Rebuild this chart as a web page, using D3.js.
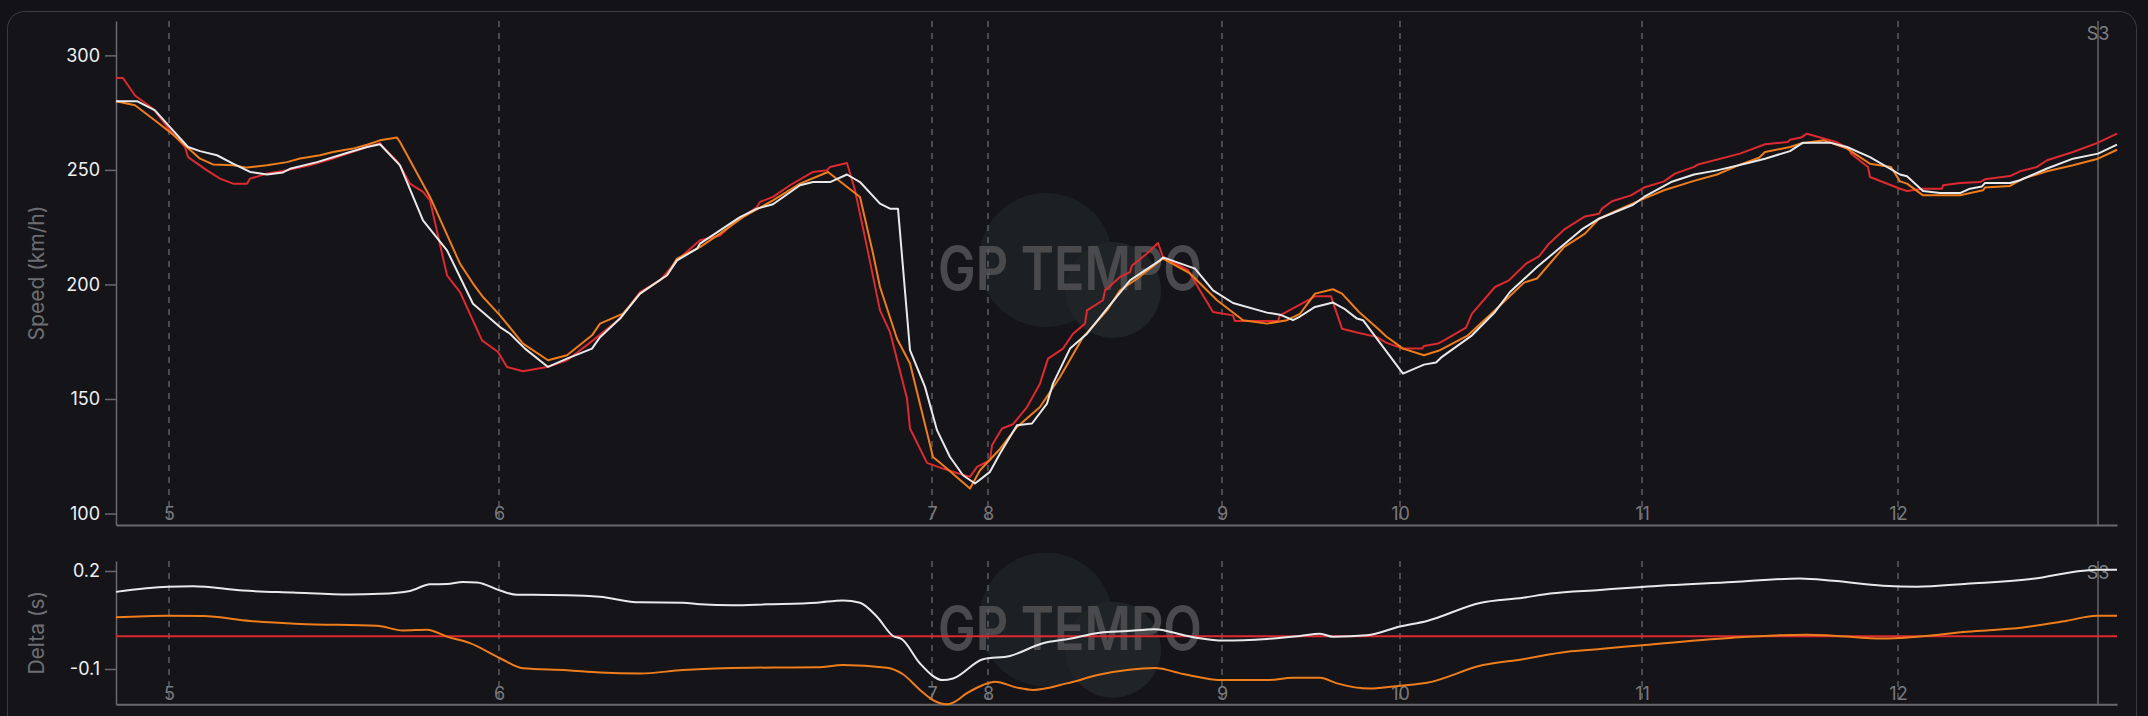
<!DOCTYPE html>
<html><head><meta charset="utf-8">
<script src="https://cdn.jsdelivr.net/npm/d3@7"></script>
<style>
html,body{margin:0;padding:0;background:#131317;}
svg{display:block;font-family:Inter,"Noto Sans",sans-serif;}
</style></head>
<body><svg id="c" width="2148" height="716"></svg>
<script>
// ---- DATA ----
// distance along the lap segment (m) and speed (km/h)
const speedRed = [[0,290.1],[7,290.1],[19,282.5],[37,276.7],[54,267.3],[69,260],[72,255.6],[91,249.8],[104,246.2],[117,244],[131,244],[134,246.2],[151,248.4],[167,249.5],[194,252],[217,255],[251,260],[264,261.7],[267,260],[282,253.4],[294,244],[307,240.4],[314,236.7],[331,204],[344,196.7],[366,175.6],[382,170.5],[391,164],[407,162.1],[431,164],[451,166.9],[477,175.6],[504,185.1],[524,196.7],[544,201.8],[561,210.5],[584,219.3],[604,221.4],[617,226.6],[641,233.8],[644,236],[657,238.2],[674,243.3],[697,249.1],[711,249.8],[714,251.3],[731,253],[739,241.1],[751,216.3],[764,188.7],[774,179.2],[791,150.2],[794,137.1],[811,122.1],[827,119.6],[841,117.7],[854,116],[861,120.4],[874,123.3],[876,129.8],[886,137.1],[897,139],[911,146.5],[924,156.7],[932,167.6],[947,172],[957,178.5],[969,182.9],[971,188.7],[987,193.1],[989,197.4],[1004,203.3],[1014,205.4],[1016,208.3],[1031,213.5],[1042,218.1],[1047,212],[1072,206.2],[1084,197.4],[1097,188],[1117,186.5],[1119,184],[1162,184],[1164,186.5],[1184,191.2],[1199,194.8],[1215,194.8],[1226,180.7],[1241,179],[1261,177],[1270,174.6],[1287,172],[1306,172],[1308,173.1],[1322,174.2],[1328,175.6],[1350,181.2],[1356,187.3],[1379,198.9],[1393,201.8],[1410,209.1],[1423,212.3],[1433,217.8],[1448,223.9],[1469,229.7],[1483,230.9],[1486,233.1],[1496,236.3],[1515,238.9],[1528,242.3],[1548,245],[1559,248.4],[1578,251.3],[1582,252.4],[1624,257.1],[1649,261.2],[1672,262.2],[1674,263.2],[1685,264.1],[1691,265.8],[1720,262.2],[1733,259.3],[1735,257.1],[1752,251.3],[1754,246.9],[1784,241.8],[1791,240.8],[1807,241.8],[1826,241.8],[1827,243.3],[1844,244.3],[1864,244.7],[1869,245.9],[1894,247.3],[1904,249.4],[1921,251.3],[1931,254.2],[1957,257.8],[1981,261.7],[2001,265.8]];

const speedWhite = [[0,280],[21,280],[39,276],[54,268.7],[72,260],[84,258.2],[101,256.4],[117,252.7],[134,249.1],[151,248],[167,248.9],[174,250.5],[201,253.4],[234,257.8],[251,260],[264,261.2],[284,252],[307,228],[331,214.9],[357,191.6],[384,181.4],[394,178.5],[409,172],[432,164],[451,167.6],[476,172],[484,177],[504,185.1],[524,196],[551,204],[561,210.5],[581,215.6],[584,217.8],[604,223.6],[624,229.4],[641,233.1],[657,235],[684,243.3],[697,244.7],[714,244.7],[731,248],[744,244.7],[764,235.3],[774,233.1],[782,233.1],[794,171.3],[809,155.3],[821,136.4],[834,124.7],[847,116.7],[859,113.1],[874,118.2],[884,126.2],[901,138.5],[916,139.3],[931,148],[937,156.7],[954,172],[971,178.5],[987,187.3],[1014,201.8],[1044,210.5],[1047,211.8],[1079,206.9],[1097,197.4],[1117,191.9],[1151,187.7],[1164,186.8],[1177,184.4],[1184,186],[1199,190.2],[1217,192.1],[1228,189.5],[1241,185.1],[1247,184.4],[1287,161.1],[1308,165],[1320,165.9],[1326,168.4],[1356,177.8],[1379,188],[1394,196.7],[1421,207.6],[1467,224.4],[1483,228.7],[1517,234.8],[1528,238.2],[1555,244.7],[1578,248],[1601,249.8],[1632,253],[1649,254.9],[1674,258.2],[1687,261.9],[1714,261.9],[1731,260],[1754,255.6],[1784,248],[1791,247.2],[1807,240.8],[1824,239.9],[1844,239.9],[1854,241.8],[1866,242.8],[1869,244.3],[1894,244.3],[1904,245.5],[1931,250.6],[1957,254.9],[1982,257.1],[2001,261]];

const speedOrange = [[0,280],[19,278.2],[41,270.9],[54,266.5],[71,260],[84,254.9],[97,252.4],[117,252],[131,251],[151,252],[171,253.4],[184,255],[204,256.4],[217,257.8],[237,259.3],[251,261],[264,262.9],[281,264.1],[284,262.2],[314,238.2],[344,209.1],[357,200.4],[367,194.5],[384,186.5],[407,174.2],[432,166.9],[451,169.1],[476,177.8],[484,182.9],[507,187.3],[524,196],[551,204],[561,211.3],[584,216.3],[604,222.2],[627,229.4],[657,236.7],[684,244],[712,249.1],[744,238.2],[757,213.5],[764,198.9],[781,176.3],[794,165.5],[817,124.7],[827,121.1],[854,110.9],[864,118.9],[884,128.2],[901,137.8],[924,146.5],[944,159.6],[967,177],[991,188.7],[1004,197.4],[1021,202.5],[1047,211.3],[1074,204.8],[1101,193.1],[1127,184.4],[1151,182.9],[1171,184.4],[1184,187.2],[1199,196],[1217,197.9],[1226,196],[1243,188],[1262,180.7],[1270,177.4],[1287,172],[1308,169.1],[1324,171.3],[1352,177.8],[1379,188.7],[1408,200.8],[1421,202.6],[1448,216.3],[1469,222.2],[1483,228.7],[1505,233.1],[1528,237.5],[1548,241.1],[1578,245.2],[1601,248],[1624,252.3],[1643,255.3],[1649,257.8],[1674,260],[1685,261.5],[1708,262.9],[1731,259.3],[1754,252.7],[1775,251.3],[1784,245],[1791,244],[1807,238.9],[1844,238.9],[1867,241.1],[1869,242.3],[1894,243],[1907,246.2],[1931,249.4],[1957,252],[1982,254.9],[2001,258.8]];

// time delta (s) vs reference (red)
const deltaWhite = [[0,0.136],[52,0.152],[77,0.153],[127,0.140],[177,0.134],[234,0.128],[264,0.130],[294,0.139],[314,0.159],[331,0.160],[347,0.166],[361,0.165],[384,0.140],[401,0.127],[417,0.127],[451,0.126],[484,0.121],[524,0.104],[567,0.103],[584,0.098],[617,0.095],[651,0.098],[701,0.103],[727,0.110],[744,0.103],[761,0.060],[777,0.001],[786,-0.009],[804,-0.083],[827,-0.134],[837,-0.129],[867,-0.070],[894,-0.060],[927,-0.021],[951,-0.009],[984,0.011],[1011,0.016],[1039,0.022],[1067,0.004],[1084,-0.006],[1107,-0.013],[1151,-0.008],[1184,0.001],[1204,0.008],[1217,-0.001],[1251,0.003],[1284,0.030],[1311,0.047],[1364,0.102],[1407,0.118],[1434,0.131],[1484,0.142],[1526,0.151],[1617,0.166],[1684,0.177],[1717,0.170],[1767,0.155],[1801,0.152],[1851,0.161],[1917,0.176],[1967,0.201],[1981,0.204],[2001,0.204]];

const deltaOrange = [[0,0.058],[51,0.063],[87,0.062],[134,0.047],[184,0.038],[261,0.032],[287,0.018],[311,0.020],[331,-0.001],[354,-0.021],[384,-0.067],[407,-0.098],[451,-0.104],[484,-0.111],[524,-0.114],[567,-0.103],[634,-0.096],[701,-0.095],[727,-0.088],[771,-0.096],[787,-0.116],[804,-0.164],[817,-0.195],[831,-0.208],[837,-0.203],[851,-0.174],[867,-0.149],[879,-0.139],[901,-0.157],[917,-0.164],[951,-0.144],[984,-0.117],[1039,-0.097],[1067,-0.115],[1107,-0.134],[1151,-0.134],[1177,-0.127],[1204,-0.127],[1221,-0.144],[1254,-0.160],[1284,-0.151],[1311,-0.142],[1367,-0.088],[1407,-0.070],[1451,-0.047],[1484,-0.039],[1526,-0.027],[1617,-0.004],[1691,0.005],[1717,0.002],[1767,-0.007],[1801,-0.001],[1851,0.014],[1907,0.027],[1951,0.048],[1981,0.063],[2001,0.063]];

const deltaRed = [[0,0],[2001,0]];

const turnLabels = ["5","6","7","8","9","10","11","12"];
const turnDist   = [53,383,816,872,1106,1284,1526,1782];
const sectorLabel = "S3";
const sectorDist = 1982;

const speedTicks = [100,150,200,250,300];
const deltaTicks = [-0.1,0.2];
const distDomain = [0,2001];
const speedDomain = [95,315];
const deltaDomain = [-0.208,0.2305];

// ---- STYLE / LAYOUT ----
const C = {red:"#dd2a30", orange:"#ef7d1c", white:"#e9e9ea", axis:"#6a6a6e", tick:"#f0f0f0", muted:"#7a7a7e"};
const svg = d3.select("#c");
svg.append("rect").attr("width",2148).attr("height",716).attr("fill","#131317");
svg.append("rect").attr("x",7.5).attr("y",11.5).attr("width",2129).attr("height",740)
  .attr("rx",17).attr("fill","#141419").attr("stroke","#3b3b40").attr("stroke-width",1);

const L = 116, R = 2117;
const x = d3.scaleLinear().domain(distDomain).range([L,R]);

function panel(top, bottom, yDomain, yTicks, yFmt, title, series, curve, labelPad){
  const y = d3.scaleLinear().domain(yDomain).range([bottom, top]);
  const g = svg.append("g");
  const cx = (L+R)/2, cy = (top+bottom)/2;
  // watermark
  const wm = g.append("g");
  wm.append("circle").attr("cx",cx-70.5).attr("cy",cy-13).attr("r",67).attr("fill","#1c2024");
  wm.append("circle").attr("cx",cx-3.5).attr("cy",cy+17).attr("r",48).attr("fill","#202427");
  wm.append("text").attr("x",cx-46.5).attr("y",cy+17).attr("text-anchor","middle")
    .attr("font-size",60).attr("font-weight",600).attr("fill","#4a4a4d")
    .attr("textLength",264).attr("lengthAdjust","spacingAndGlyphs").text("GP TEMPO");
  // turn dashed lines
  g.selectAll("line.turn").data(turnDist).join("line").attr("class","turn")
    .attr("x1",d=>x(d)).attr("x2",d=>x(d)).attr("y1",top).attr("y2",bottom)
    .attr("stroke","#5d5d62").attr("stroke-width",1.5).attr("stroke-dasharray","6,6");
  // sector line
  g.append("line").attr("x1",x(sectorDist)).attr("x2",x(sectorDist)).attr("y1",top).attr("y2",bottom)
    .attr("stroke","#66666a").attr("stroke-width",1.5);
  // x axis (labels inside plot)
  const xa = g.append("g").attr("transform",`translate(0,${bottom})`)
    .call(d3.axisTop(x).tickValues(turnDist).tickFormat((d,i)=>turnLabels[i]).tickSize(0).tickPadding(labelPad).tickSizeOuter(0));
  xa.select(".domain").attr("stroke",C.axis).attr("stroke-width",2);
  xa.selectAll("text").attr("fill",C.muted).attr("font-size",18).attr("font-family","Inter");
  // y axis
  const ya = g.append("g").attr("transform",`translate(${L},0)`)
    .call(d3.axisLeft(y).tickValues(yTicks).tickFormat(yFmt).tickSize(11).tickPadding(5).tickSizeOuter(0));
  ya.select(".domain").attr("stroke",C.axis).attr("stroke-width",1.5);
  ya.selectAll(".tick line").attr("stroke",C.axis).attr("stroke-width",1.5);
  ya.selectAll("text").attr("fill",C.tick).attr("font-size",18).attr("font-family","Inter");
  // y title
  g.append("text").attr("transform",`translate(44,${cy}) rotate(-90)`).attr("text-anchor","middle")
    .attr("font-size",21).attr("fill","#6e6e72").text(title);
  // sector label
  g.append("text").attr("x",x(sectorDist)).attr("y",top+ (top<100?19:18)).attr("text-anchor","middle")
    .attr("font-size",18).attr("fill","#808084").text(sectorLabel);
  // lines
  const line = d3.line().x(d=>x(d[0])).y(d=>y(d[1])).curve(curve);
  series.forEach(s=>{
    g.append("path").datum(s.data).attr("d",line).attr("fill","none")
      .attr("stroke",s.color).attr("stroke-width",2).attr("stroke-linejoin","round");
  });
}

panel(21, 525, speedDomain, speedTicks, d3.format("d"), "Speed (km/h)",
  [{data:speedRed,color:C.red},{data:speedOrange,color:C.orange},{data:speedWhite,color:C.white}],
  d3.curveLinear, 5);
panel(561, 704.3, deltaDomain, deltaTicks, d=>d3.format(".1f")(d).replace("−","-"), "Delta (s)",
  [{data:deltaRed,color:C.red},{data:deltaOrange,color:C.orange},{data:deltaWhite,color:C.white}],
  d3.curveMonotoneX, 4);
</script></body></html>
